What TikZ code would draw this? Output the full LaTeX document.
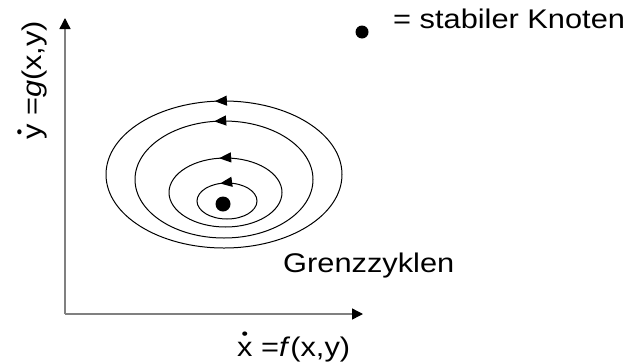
\documentclass[tikz,border=0pt]{standalone}
\usepackage{fontspec}
\setmainfont{Liberation Sans}
\usepackage{graphicx}
\usetikzlibrary{arrows.meta, positioning, decorations.markings}
\definecolor{axisgray}{RGB}{128,128,128}
\newcommand{\dotacc}[1]{\ooalign{#1\cr\hidewidth\raisebox{0.6em}{\scalebox{0.6}{\textbullet}}\hidewidth\cr}}

\begin{document}
\begin{tikzpicture}[
    x=1pt, y=-1pt,
    axisline/.style={draw=axisgray, line width=1.4pt, -{Triangle[length=11pt, width=11pt, black]}},
    limcycle/.style={draw, line width=1pt, postaction={decorate},
        decoration={markings, mark=at position #1 with {\arrowreversed{Triangle[length=12pt, width=10pt]}}}},
    lbl/.style={inner sep=0pt, font=\fontsize{27}{31}\selectfont},
]
    \useasboundingbox (0,0) rectangle (631,362);

    % Axes
    \coordinate (origin) at (65,314);
    \coordinate (ytop) at (65,18);
    \coordinate (xend) at (363,314);
    \draw[axisline] (origin) -- (ytop);
    \draw[axisline] (origin) -- (xend);

    % Axis labels
    \node[lbl, anchor=base west] (xlabel) at (237,356) {\scalebox{1.14}[1]{\dotacc{x} =\textit{f}(x,y)}};
    \node[lbl, anchor=base west, rotate=90] (ylabel) at (41,140) {\scalebox{1.14}[1]{\dotacc{y} =\textit{g}(x,y)}};

    % Limit cycles
    \draw[limcycle=0.735] (224,174.5) ellipse [x radius=118, y radius=73.5];
    \draw[limcycle=0.729] (224,179.5) ellipse [x radius=89, y radius=58.5];
    \draw[limcycle=0.728] (225.5,192.5) ellipse [x radius=56.5, y radius=34.5];
    \draw[limcycle=0.705] (227,201) ellipse [x radius=30, y radius=18];

    % Stable node
    \fill (223,204) circle [radius=7.5] coordinate (node);

    \node[lbl, anchor=base west] (cyclelabel) at (283,272) {\scalebox{1.14}[1]{Grenzzyklen}};

    % Legend
    \fill (362,32) circle [radius=6.5] coordinate (legdot);
    \node[lbl, anchor=base west] (legend) at (393,28) {\scalebox{1.14}[1]{= stabiler Knoten}};
\end{tikzpicture}
\end{document}
